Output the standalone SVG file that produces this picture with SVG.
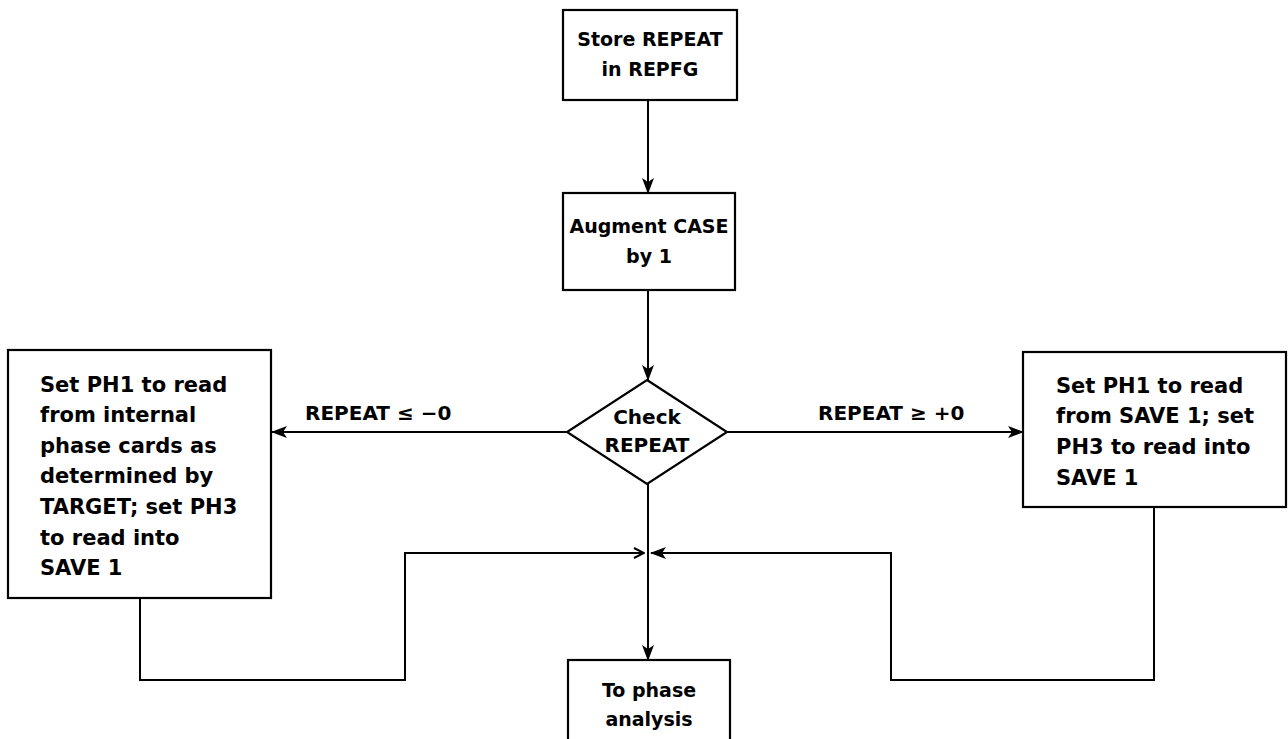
<svg xmlns="http://www.w3.org/2000/svg" width="1288" height="739" viewBox="0 0 1288 739">
<defs>
<marker id="ah" markerWidth="16" markerHeight="12" refX="15" refY="6" orient="auto" markerUnits="userSpaceOnUse">
<path d="M0,0 L16,6 L0,12 L4,6 Z" fill="#000"/>
</marker>
<marker id="ao" markerWidth="12" markerHeight="12" refX="11" refY="6" orient="auto" markerUnits="userSpaceOnUse">
<path d="M1,1 L11,6 L1,11" fill="none" stroke="#000" stroke-width="2"/>
</marker>
</defs>
<style>
.box{fill:#fff;stroke:#000;stroke-width:2.2}
.t{font-family:"DejaVu Sans","Liberation Sans",sans-serif;font-weight:bold;font-size:21px;fill:#000}
.c{text-anchor:middle;font-size:19px}
.lb{font-size:20px}
.dm{font-size:20px}
.ln{fill:none;stroke:#000;stroke-width:2}
</style>
<rect width="1288" height="739" fill="#fff"/>
<g id="connectors">
<line class="ln" x1="648" y1="100" x2="648" y2="193" marker-end="url(#ah)"/>
<line class="ln" x1="648" y1="290" x2="648" y2="380" marker-end="url(#ah)"/>
<line class="ln" x1="567" y1="432" x2="272" y2="432" marker-end="url(#ah)"/>
<line class="ln" x1="727" y1="432" x2="1023" y2="432" marker-end="url(#ah)"/>
<line class="ln" x1="648" y1="483" x2="648" y2="660" marker-end="url(#ah)"/>
<polyline class="ln" points="140,598 140,680 405,680 405,553 644,553" marker-end="url(#ao)"/>
<polyline class="ln" points="1154,507 1154,680 891,680 891,553 651,553" marker-end="url(#ah)"/>
<text class="t lb" x="305" y="420">REPEAT ≤ −0</text>
<text class="t lb" x="818" y="420">REPEAT ≥ +0</text>
</g>
<g id="store">
<rect class="box" x="563" y="10" width="174" height="90"/>
<text class="t c" x="650" y="46">Store REPEAT</text>
<text class="t c" x="650" y="76">in REPFG</text>
</g>
<g id="augment">
<rect class="box" x="563" y="193" width="172" height="97"/>
<text class="t c" x="649" y="233">Augment CASE</text>
<text class="t c" x="649" y="263">by 1</text>
</g>
<g id="check">
<polygon class="box" points="647,380 727,432 647,484 567,432"/>
<text class="t c dm" x="647" y="424">Check</text>
<text class="t c dm" x="647" y="452">REPEAT</text>
</g>
<g id="left">
<rect class="box" x="8" y="350" width="263" height="248"/>
<text class="t" x="40" y="392">Set PH1 to read</text>
<text class="t" x="40" y="422">from internal</text>
<text class="t" x="40" y="453">phase cards as</text>
<text class="t" x="40" y="483">determined by</text>
<text class="t" x="40" y="514">TARGET; set PH3</text>
<text class="t" x="40" y="545">to read into</text>
<text class="t" x="40" y="575">SAVE 1</text>
</g>
<g id="right">
<rect class="box" x="1023" y="352" width="263" height="155"/>
<text class="t" x="1056" y="393">Set PH1 to read</text>
<text class="t" x="1056" y="423">from SAVE 1; set</text>
<text class="t" x="1056" y="454">PH3 to read into</text>
<text class="t" x="1056" y="485">SAVE 1</text>
</g>
<g id="phase">
<rect class="box" x="568" y="660" width="162" height="90"/>
<text class="t c" x="649" y="697">To phase</text>
<text class="t c" x="649" y="726">analysis</text>
</g>
</svg>
